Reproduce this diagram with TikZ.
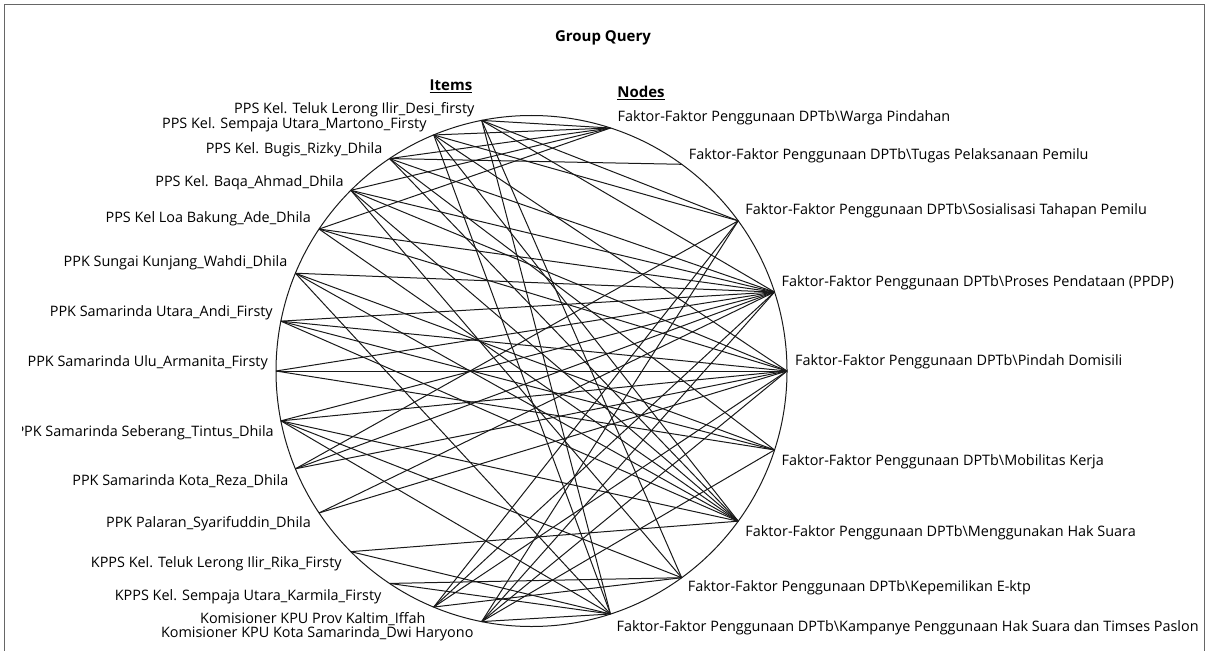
\documentclass[tikz,border=0pt]{standalone}
\usepackage{fontspec}
\setmainfont{Open Sans}
\begin{document}
\begin{tikzpicture}[x=1pt,y=-1pt,
  lbl/.style={font=\fontsize{14.4}{16}\selectfont, inner sep=0pt},
  head/.style={font=\bfseries\fontsize{15}{17}\selectfont, inner sep=0pt},
  link/.style={line width=1pt, black!90},
  ring/.style={line width=1pt, black!90},
  frame/.style={line width=0.8pt, black!60}]
\useasboundingbox (0,0) rectangle (1209,650);
\draw[frame] (4,662) -- (4,4) -- (1204,4) -- (1204,662);
\node[head] (title) at (603,38) {Group Query};
\node[head] (items) at (451,86) {\underline{Items}};
\node[head] (nodes) at (641,93) {\underline{Nodes}};
\begin{scope}
\clip (22,6) rectangle (1199,650);
% circle carrying the item and node points
\coordinate (c) at (531.5,371);
\draw[ring] (c) circle[radius=255.5];
% items on the left half, every 11.25 degrees
\foreach \k in {1,...,15}{
  \pgfmathsetmacro{\ang}{101.25+11.25*(\k-1)}
  \coordinate (i\k) at ({531.5+255.5*cos(\ang)},{371-255.5*sin(\ang)});
}
% nodes on the right half, every 18 degrees
\foreach \j in {1,...,9}{
  \pgfmathsetmacro{\ang}{72-18*(\j-1)}
  \coordinate (n\j) at ({531.5+255.5*cos(\ang)},{371-255.5*sin(\ang)});
}
% links between items and nodes
\foreach \a/\b in {1/1,1/3,1/4,1/8,1/9,
                   2/1,2/3,2/5,2/7,2/9,
                   3/1,3/2,3/4,3/6,3/7,
                   4/1,4/4,4/5,4/7,4/8,
                   5/1,5/4,5/5,5/7,
                   6/4,6/6,6/7,6/9,
                   7/4,7/5,7/6,7/7,
                   8/4,8/5,8/6,
                   9/4,9/5,9/7,9/8,9/9,
                   10/3,10/4,10/5,
                   11/4,11/5,
                   12/7,12/9,
                   13/8,13/9,
                   14/3,14/4,14/5,14/8,
                   15/3,15/4,15/5,15/6,15/9}{
  \draw[link] (i\a) -- (n\b);
}
% item labels
\node[lbl,anchor=east] (li1) at ([shift={(-7,-11)}]i1) {PPS Kel. Teluk Lerong Ilir\_Desi\_firsty};
\node[lbl,anchor=east] (li2) at ([shift={(-7,-10)}]i2) {PPS Kel. Sempaja Utara\_Martono\_Firsty};
\node[lbl,anchor=east] (li3) at ([shift={(-7,-9)}]i3) {PPS Kel. Bugis\_Rizky\_Dhila};
\node[lbl,anchor=east] (li4) at ([shift={(-7,-8)}]i4) {PPS Kel. Baqa\_Ahmad\_Dhila};
\node[lbl,anchor=east] (li5) at ([shift={(-8,-10)}]i5) {PPS Kel Loa Bakung\_Ade\_Dhila};
\node[lbl,anchor=east] (li6) at ([shift={(-8,-10)}]i6) {PPK Sungai Kunjang\_Wahdi\_Dhila};
\node[lbl,anchor=east] (li7) at ([shift={(-8,-8)}]i7) {PPK Samarinda Utara\_Andi\_Firsty};
\node[lbl,anchor=east] (li8) at ([shift={(-8,-8)}]i8) {PPK Samarinda Ulu\_Armanita\_Firsty};
\node[lbl,anchor=east] (li9) at ([shift={(-7,12)}]i9) {PPK Samarinda Seberang\_Tintus\_Dhila};
\node[lbl,anchor=east] (li10) at ([shift={(-7,12)}]i10) {PPK Samarinda Kota\_Reza\_Dhila};
\node[lbl,anchor=east] (li11) at ([shift={(-8,11)}]i11) {PPK Palaran\_Syarifuddin\_Dhila};
\node[lbl,anchor=east] (li12) at ([shift={(-9,12)}]i12) {KPPS Kel. Teluk Lerong Ilir\_Rika\_Firsty};
\node[lbl,anchor=east] (li13) at ([shift={(-8,13)}]i13) {KPPS Kel. Sempaja Utara\_Karmila\_Firsty};
\node[lbl,anchor=east] (li14) at ([shift={(-8,12)}]i14) {Komisioner KPU Prov Kaltim\_Iffah};
\node[lbl,anchor=east] (li15) at ([shift={(-8,12.5)}]i15) {Komisioner KPU Kota Samarinda\_Dwi Haryono};
% node labels
\node[lbl,anchor=west] (ln1) at ([shift={(7,-10)}]n1) {Faktor-Faktor Penggunaan DPTb\textbackslash Warga Pindahan};
\node[lbl,anchor=west] (ln2) at ([shift={(7,-9)}]n2) {Faktor-Faktor Penggunaan DPTb\textbackslash Tugas Pelaksanaan Pemilu};
\node[lbl,anchor=west] (ln3) at ([shift={(7,-10)}]n3) {Faktor-Faktor Penggunaan DPTb\textbackslash Sosialisasi Tahapan Pemilu};
\node[lbl,anchor=west] (ln4) at ([shift={(7,-9)}]n4) {Faktor-Faktor Penggunaan DPTb\textbackslash Proses Pendataan (PPDP)};
\node[lbl,anchor=west] (ln5) at ([shift={(8,-9)}]n5) {Faktor-Faktor Penggunaan DPTb\textbackslash Pindah Domisili};
\node[lbl,anchor=west] (ln6) at ([shift={(7,12)}]n6) {Faktor-Faktor Penggunaan DPTb\textbackslash Mobilitas Kerja};
\node[lbl,anchor=west] (ln7) at ([shift={(7,12)}]n7) {Faktor-Faktor Penggunaan DPTb\textbackslash Menggunakan Hak Suara};
\node[lbl,anchor=west] (ln8) at ([shift={(6,10)}]n8) {Faktor-Faktor Penggunaan DPTb\textbackslash Kepemilikan E-ktp};
\node[lbl,anchor=west] (ln9) at ([shift={(6,14)}]n9) {Faktor-Faktor Penggunaan DPTb\textbackslash Kampanye Penggunaan Hak Suara dan Timses Paslon};
\end{scope}
\end{tikzpicture}
\end{document}
